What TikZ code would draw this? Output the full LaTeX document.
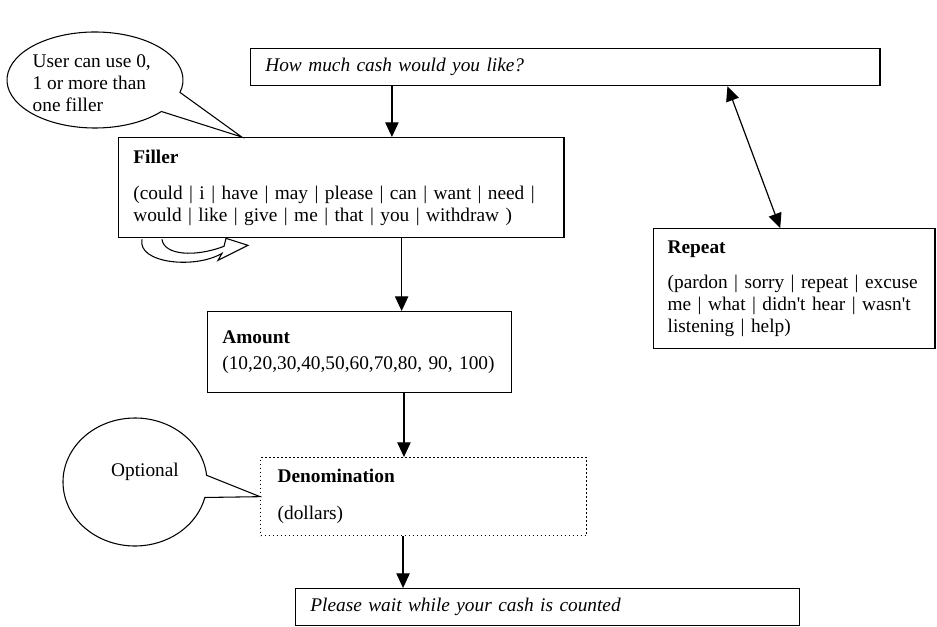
\documentclass[tikz,border=0pt]{standalone}
\usepackage{fontspec}
\setmainfont{Liberation Serif}
\usepackage{tikz}
\usetikzlibrary{arrows.meta,calc}

\begin{document}
\begin{tikzpicture}[x=0.75pt,y=-0.75pt]
        \tikzset{box/.style = {shape=rectangle,draw,line width=1pt,anchor=north west,align=left,
                               inner xsep=11pt,font=\fontsize{14.5}{16.5}\selectfont}}
        \tikzset{edge/.style = {->,line width=0.9pt,> = {Triangle[length=11pt,width=10pt]}}}
        \tikzset{balloon/.style = {draw,line width=0.8pt}}

        \useasboundingbox (0,0) rectangle (937,627);

        % boxes
        \node[box,text width=450pt,minimum height=27.75pt] (ask) at (250,48)
            {\itshape How much cash would you like?};
        \node[box,text width=312pt,minimum height=75pt] (filler) at (118,137)
            {\textbf{Filler}\\[10.5pt]
             (could | i | have | may | please | can | want | need |\\
             would | like | give | me | that | you | withdraw )};
        \node[box,text width=206pt,minimum height=60.75pt] (amount) at (207,311)
            {\textbf{Amount}\\[3pt]
             (10,20,30,40,50,60,70,80, 90, 100)};
        \node[box,dotted,text width=219pt,inner xsep=12.75pt,minimum height=58.5pt] (denom) at (260,457)
            {\textbf{Denomination}\\[11pt]
             (dollars)};
        \node[box,text width=356pt,minimum height=27.75pt] (wait) at (295,588)
            {\itshape Please wait while your cash is counted};
        \node[box,text width=190pt,inner xsep=10.5pt,minimum height=90pt] (repeat) at (653,228)
            {\textbf{Repeat}\\[10pt]
             (pardon | sorry | repeat | excuse\\
             me | what | didn\textquotesingle t hear | wasn\textquotesingle t\\
             listening | help)};

        % balloons
        \draw[balloon] (95,80) ++(-15:66pt and 36pt)
            arc[start angle=-15,end angle=319,x radius=66pt,y radius=36pt]
            -- ($(filler.north west)!.277!(filler.north east)$) -- cycle;
        \node[align=left,anchor=west,font=\fontsize{14.5}{16.5}\selectfont] (note1) at (28,83)
            {User can use 0,\\1 or more than\\one filler};

        \draw[balloon] (135,482) ++(6:54pt and 48pt)
            arc[start angle=6,end angle=346,x radius=54pt,y radius=48pt]
            -- (denom.west) -- cycle;
        \node[font=\fontsize{14.5}{16.5}\selectfont] (note2) at (145,472) {Optional};

        % loop under filler
        \begin{scope}[shift={(filler.south west)}]
            \draw[balloon] (24,1) .. controls (19,25) and (77,31) .. (104,15)
                -- (100,22) -- (130,7) -- (108,0) -- (106,8)
                .. controls (77,19) and (46,17) .. (44,1);
        \end{scope}

        %edges
        \draw[edge] ($(ask.south west)!.225!(ask.south east)$) coordinate (e1) -- (e1 |- filler.north);
        \draw[edge] ($(filler.south west)!.635!(filler.south east)$) coordinate (e2) -- (e2 |- amount.north);
        \draw[edge] ($(amount.south west)!.645!(amount.south east)$) coordinate (e3) -- (e3 |- denom.north);
        \draw[edge] ($(denom.south west)!.437!(denom.south east)$) coordinate (e4) -- (e4 |- wait.north);
        \draw[edge,<->] ($(ask.south west)!.757!(ask.south east)$) -- ($(repeat.north west)!.45!(repeat.north east)$);

    \end{tikzpicture}
\end{document}
